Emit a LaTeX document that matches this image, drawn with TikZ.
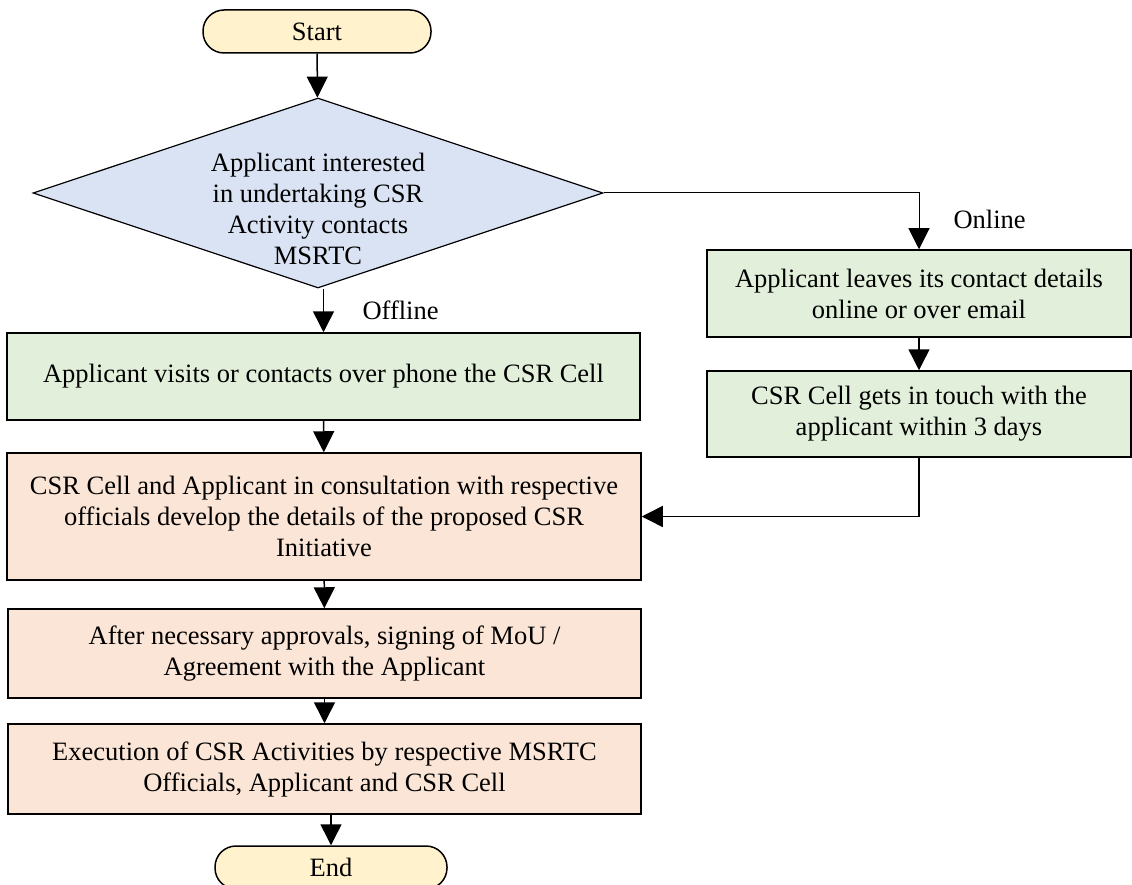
\documentclass[tikz,border=0pt]{standalone}
\usepackage{fontspec}
\setmainfont{Liberation Serif}
\usetikzlibrary{shapes.geometric, arrows.meta}

\definecolor{capfill}{HTML}{FFF2CC}
\definecolor{askfill}{HTML}{DAE3F3}
\definecolor{webfill}{HTML}{E2EFDA}
\definecolor{cellfill}{HTML}{FBE5D6}

\begin{document}
\begin{tikzpicture}[x=1pt, y=-1pt,
    font=\fontsize{26.5}{31}\selectfont,
    terminal/.style={rectangle, rounded corners=21pt, draw, line width=1.5pt, fill=capfill, minimum width=228pt, minimum height=43pt, inner sep=0pt},
    decision/.style={diamond, aspect=3, draw, line width=1.2pt, fill=askfill, minimum width=570pt, minimum height=190pt, inner sep=0pt, align=center},
    process/.style={rectangle, draw, line width=1.5pt, align=center, inner sep=0pt},
    flow/.style={-{Triangle[width=21pt, length=21pt]}, line width=1.5pt}]
    \useasboundingbox (0,0) rectangle (1132,885);

    % Nodes
    \node[terminal] (start) at (317, 31.5) {Start};
    \node[decision] (ask) at (318, 193) {\raisebox{-25pt}[0pt][0pt]{\begin{tabular}{@{}c@{}}Applicant interested\\in undertaking CSR\\Activity contacts\\MSRTC\end{tabular}}};
    \node[process, fill=webfill, minimum width=633pt, minimum height=87pt] (visit) at (323.5, 376.5) {Applicant visits or contacts over phone the CSR Cell};
    \node[process, fill=webfill, minimum width=424pt, minimum height=87pt] (leave) at (919, 293.5) {Applicant leaves its contact details\\online or over email};
    \node[process, fill=webfill, minimum width=424pt, minimum height=86pt] (touch) at (919, 414) {CSR Cell gets in touch with the\\applicant within 3 days};
    \node[process, fill=cellfill, minimum width=634pt, minimum height=127pt] (consult) at (324, 516.5) {CSR Cell and Applicant in consultation with respective\\officials develop the details of the proposed CSR\\Initiative};
    \node[process, fill=cellfill, minimum width=633pt, minimum height=89pt] (sign) at (324.5, 653.5) {After necessary approvals, signing of MoU /\\Agreement with the Applicant};
    \node[process, fill=cellfill, minimum width=633pt, minimum height=90pt] (exec) at (324.5, 769) {Execution of CSR Activities by respective MSRTC\\Officials, Applicant and CSR Cell};
    \node[terminal, minimum width=232pt] (stop) at (331, 867.5) {End};
    \node[anchor=west] (offline) at (359, 310) {Offline};
    \node[anchor=west] (online) at (950, 219) {Online};

    % Lines
    \draw[flow] (start) -- (ask);
    \draw[flow] (ask.south -| visit.north) -- (visit.north);
    \draw[flow, line width=1pt] (ask.east) -| (leave.north);
    \draw[flow] (leave) -- (touch);
    \draw[flow] (touch.south) |- (consult.east);
    \draw[flow] (visit) -- (consult);
    \draw[flow] (consult) -- (sign);
    \draw[flow] (sign) -- (exec);
    \draw[flow] (exec.south -| stop.north) -- (stop.north);
\end{tikzpicture}
\end{document}
